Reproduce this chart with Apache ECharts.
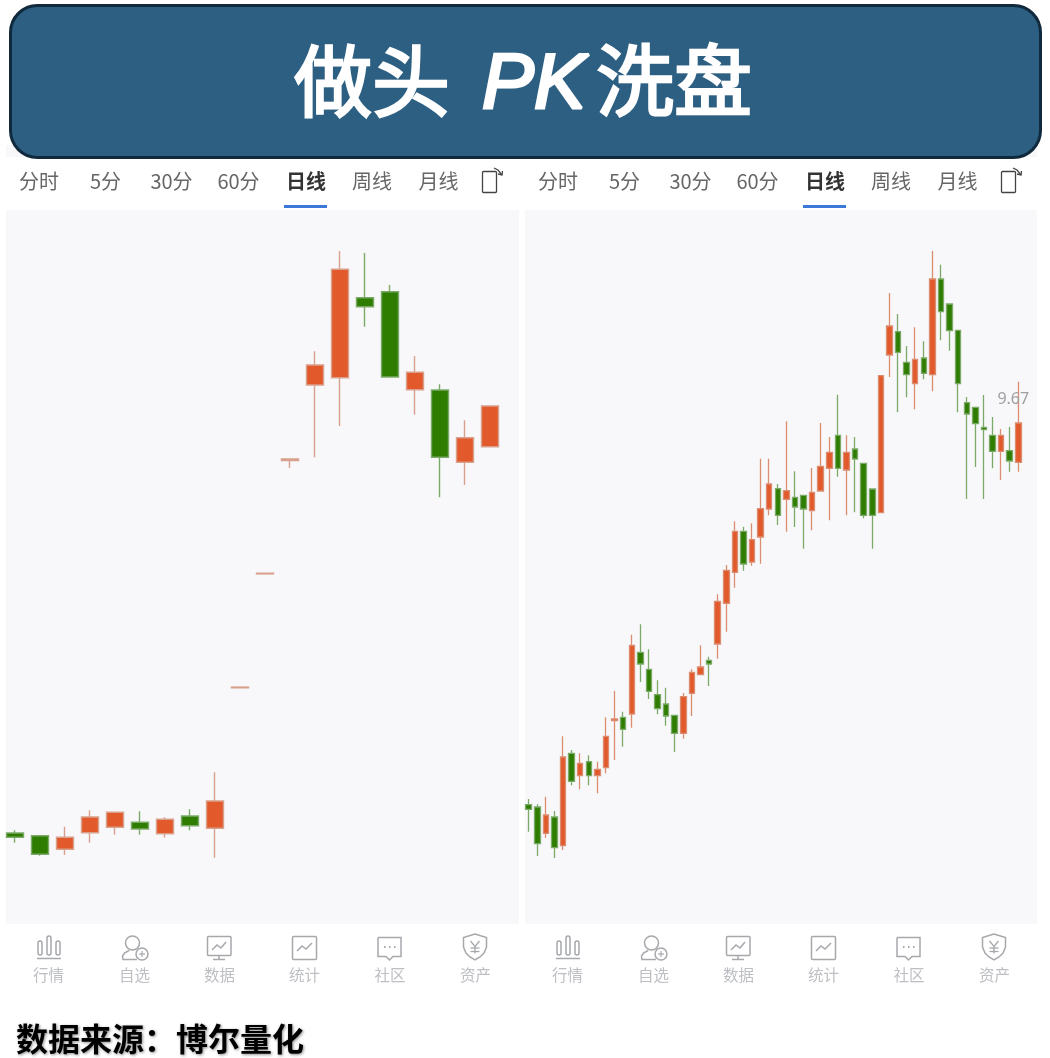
<!DOCTYPE html>
<html>
<head>
<meta charset="utf-8">
<style>html,body{margin:0;padding:0;background:#fff}#c{width:1050px;height:1058px}</style>
<script src="https://cdn.jsdelivr.net/npm/echarts@6/dist/echarts.min.js"></script>
</head>
<body>
<div id="c"></div>
<script>
// [open, close, low, high] (height above panel bottom)
const leftCandles = [
[91,86.7,81.3,93.7],[88.3,69.7,68.3,88.3],[74.7,86.7,69,97.3],[91.3,107,81.3,113.7],[96.7,111.7,89.3,111.7],
[101.7,95,89.3,112.7],[90.3,104.7,86.3,106.7],[108,98.3,93.7,114.7],[95.7,123,66.3,151.7],[236.2,236.9,236.2,236.9],
[350.1,350.8,350.1,350.8],[463.5,465,456,465],[539,559,466.7,572.7],[546.3,654.7,498,673],[626.3,617.3,597.3,671],
[632.3,547,546.3,639],[534.3,551.7,509.3,568],[534,466.7,426.7,539.7],[461.7,486.3,439,503.7],[477.3,518,477.3,518]
];
const rightCandles = [
[119.3,114.7,92.3,125],[117,80.3,68,119.7],[90.7,109,86.3,127.3],[107,76.3,66,113],[78.3,167,74,187.7],
[170.7,142.7,138.7,174],[148.3,160.7,134.7,170.7],[162.3,148.3,138.7,168.7],[148.3,154.7,130.7,162.3],[156.3,187.7,150.7,206.7],
[203.3,205,164,233],[206.7,194.7,177.3,212.3],[210,278.7,196.3,289.3],[271.7,260,242,299.7],[254.7,232.7,225,274.7],
[229.3,215.3,209.7,243.7],[220,208,198.3,236.3],[208.7,190.7,172,208.7],[190.7,227.3,185.3,231],[230.7,251.7,208,254.7],
[249.3,257,249.3,278.7],[263.7,260,238,267.3],[280,322.7,265.3,329.7],[320.7,353.7,292.3,359],[351.7,392.7,336.3,402.7],
[392.7,360,353.3,397.3],[362,384.3,358.3,400.7],[387,415.3,360.3,465.3],[415,440,408.7,465.3],[435.3,408.7,399,440],
[424.7,433.3,392.3,502.7],[426.7,417,397,452.7],[428.7,415,375.3,428.7],[413.3,431.7,393.7,456],[433,457.7,433,501],
[455.7,471.7,403.7,487],[488.7,455.7,447.3,529.3],[454,471.7,408.7,488.7],[475,465,411.7,487],[460.7,408.7,405.7,460.7],
[435,408.7,375.3,435],[411.3,548.3,411.3,548.3],[569,598,547,631],[592.3,571.7,511.7,610],[561.7,549.3,526.7,578],
[540.3,564.7,514.7,596.7],[566,550.7,544.7,582.7],[549.3,645,532.7,673],[645,612.3,583.7,659.3],[620,593.3,573.3,620],
[593.7,540.3,511.7,593.7],[521.3,510,425,527],[516.7,500.3,457,516.7],[496.7,494.3,425,529],[488.7,472.7,455.7,507],
[472.7,488.7,444,495],[473.3,463,452.3,497],[461.7,501,452.3,542.3]
];
const tabLabels = ['分时','5分','30分','60分','日线','周线','月线'];
const tabCenters = [39,105.5,171.5,238.5,306,372,438.5];
const navLabels = ['行情','自选','数据','统计','社区','资产'];
const navCenters = [48.5,134.5,219.5,304.5,390,475.5];
const lastPriceLabel = '9.67';
const titleParts = ['做头','PK','洗盘'];
const sourceText = '数据来源：博尔量化';

const CJK = '"Noto Sans CJK SC","Noto Sans",sans-serif';
const UP = '#E25A2C', DOWN = '#2F7D00';
const g = [];
function txt(text,x,y,size,fill,opt){
  g.push({type:'text',x:x,y:y,silent:true,style:Object.assign({text:text,fill:fill,fontSize:size,
    fontFamily:CJK,align:'center',verticalAlign:'middle'},opt||{})});
}
function rect(x,y,w,h,fill,r,extra){
  g.push({type:'rect',silent:true,shape:{x:x,y:y,width:w,height:h,r:r||0},style:Object.assign({fill:fill},extra||{})});
}
function line(dx,pts,stroke,lw){
  g.push({type:'polyline',x:dx,silent:true,shape:{points:pts},style:{fill:'none',stroke:stroke,lineWidth:lw}});
}
function ring(dx,cx,cy,r,stroke,lw){
  g.push({type:'circle',x:dx,silent:true,shape:{cx:cx,cy:cy,r:r},style:{fill:'none',stroke:stroke,lineWidth:lw}});
}
function box(dx,x,y,w,h,r,stroke,lw){
  g.push({type:'rect',x:dx,silent:true,shape:{x:x,y:y,width:w,height:h,r:r},style:{fill:'none',stroke:stroke,lineWidth:lw}});
}
const IC='#A6A8AC', LW=1.5;
const navDraw = [
 function(d){box(d,38,941,4,14,2,IC,LW);box(d,47,936,4,19,2,IC,LW);box(d,56,941,4,14,2,IC,LW);line(d,[[37,958.5],[61,958.5]],IC,LW);},
 function(d){ring(d,132.5,943,7,IC,LW);line(d,[[137,959.5],[123,959.5],[122.5,956],[124.5,953],[129,950.5]],IC,LW);ring(d,142,954,6,IC,LW);line(d,[[139,954],[145,954]],IC,1.2);line(d,[[142,951],[142,957]],IC,1.2);},
 function(d){box(d,207.5,936.5,23.5,19,1,IC,LW);line(d,[[212,950],[217,945],[221,948],[226,942]],IC,LW);line(d,[[219,956],[219,959]],IC,LW);line(d,[[213,959.5],[225,959.5]],IC,LW);},
 function(d){box(d,292.5,936.5,24,23,1,IC,LW);line(d,[[297,951],[302,946],[306,949],[312,943]],IC,LW);},
 function(d){line(d,[[378,937.5],[401,937.5],[401,956.5],[393,956.5],[389.5,960],[386,956.5],[378,956.5],[378,937.5]],IC,LW);line(d,[[384,947],[385.5,947]],IC,2);line(d,[[389,947],[390.5,947]],IC,2);line(d,[[394,947],[395.5,947]],IC,2);},
 function(d){line(d,[[475,934],[486.5,937.5],[486.5,947],[484,953],[480,957],[475,960],[470,957],[466,953],[463.5,947],[463.5,937.5],[475,934]],IC,LW);line(d,[[470.5,941],[475,946.5],[479.5,941]],IC,1.3);line(d,[[475,946.5],[475,953.5]],IC,1.3);line(d,[[470.5,948],[479.5,948]],IC,1.3);line(d,[[470.5,951.5],[479.5,951.5]],IC,1.3);}
];
// panels
rect(6,145,1031,12,'#F8F8FA');
rect(6,210,513,714,'#F8F8FA');
rect(525,210,512,714,'#F8F8FA');
// header
rect(10.5,5.5,1030,152,'#2C5F82',27,{stroke:'#10293D',lineWidth:3});
txt(titleParts[0],294,81,78,'#fff',{align:'left',stroke:'#fff',lineWidth:2.5});
txt(titleParts[1],482,86,78,'#fff',{align:'left',fontStyle:'italic',fontFamily:'"Liberation Sans",sans-serif',stroke:'#fff',lineWidth:3});
txt(titleParts[2],596,80,78,'#fff',{align:'left',stroke:'#fff',lineWidth:2.5});
// tabs and nav for both panels
[0,519].forEach(function(dx){
  tabLabels.forEach(function(t,i){
    const on=t==='日线';
    txt(t,tabCenters[i]+dx,181,20,on?'#333':'#666',on?{fontWeight:'bold'}:{});
  });
  rect(284+dx,205,43,3,'#3B78D8');
  box(dx,482.5,171.5,14,21,1,'#444',1.3);
  line(dx,[[494,168],[498,170],[502,175]],'#444',1.3);
  line(dx,[[502.5,171],[502,175],[498,174]],'#444',1.3);
  navLabels.forEach(function(t,i){
    txt(t,navCenters[i]+dx,975,15.5,'#BDBFC3');
    navDraw[i](dx);
  });
});
txt(sourceText,16,1039,32,'#000',{align:'left',fontWeight:'bold',textShadowColor:'rgba(0,0,0,0.45)',textShadowBlur:3,textShadowOffsetX:1,textShadowOffsetY:1});

function candle(idx,data,width,border,upB,downB){
  return {type:'candlestick',xAxisIndex:idx,yAxisIndex:idx,data:data,barWidth:width,
    itemStyle:{color:UP,color0:DOWN,borderColor:upB,borderColor0:downB,borderWidth:border}};
}
const rightSeries=candle(1,rightCandles,6,1.3,'#DB8D72','#7BAA68');
const lastIdx=rightCandles.length-1;
rightSeries.markPoint={symbol:'circle',symbolSize:1,silent:true,animation:false,itemStyle:{opacity:0},
  data:[{coord:[lastIdx,rightCandles[lastIdx][3]],
    label:{show:true,formatter:lastPriceLabel,color:'#A0A0A0',fontSize:16,fontFamily:'"Noto Sans",sans-serif',
      position:'inside',offset:[-5,18],opacity:1}}]};
const hiddenY=i=>({type:'value',gridIndex:i,min:0,max:714,show:false,splitLine:{show:false}});
const hiddenX=(i,d)=>({type:'category',gridIndex:i,data:d.map((_,k)=>String(k+1)),show:false});

echarts.init(document.getElementById('c'),null,{renderer:'canvas'}).setOption({
  animation:false,backgroundColor:'#fff',
  grid:[{left:2.5,top:210,width:500,height:714},{left:524.4,top:210,width:498.2,height:714}],
  xAxis:[hiddenX(0,leftCandles),hiddenX(1,rightCandles)],
  yAxis:[hiddenY(0),hiddenY(1)],
  series:[candle(0,leftCandles,17,1.4,'#D9A08C','#7BAA68'),rightSeries],
  graphic:{elements:g}
});
</script>
</body>
</html>
